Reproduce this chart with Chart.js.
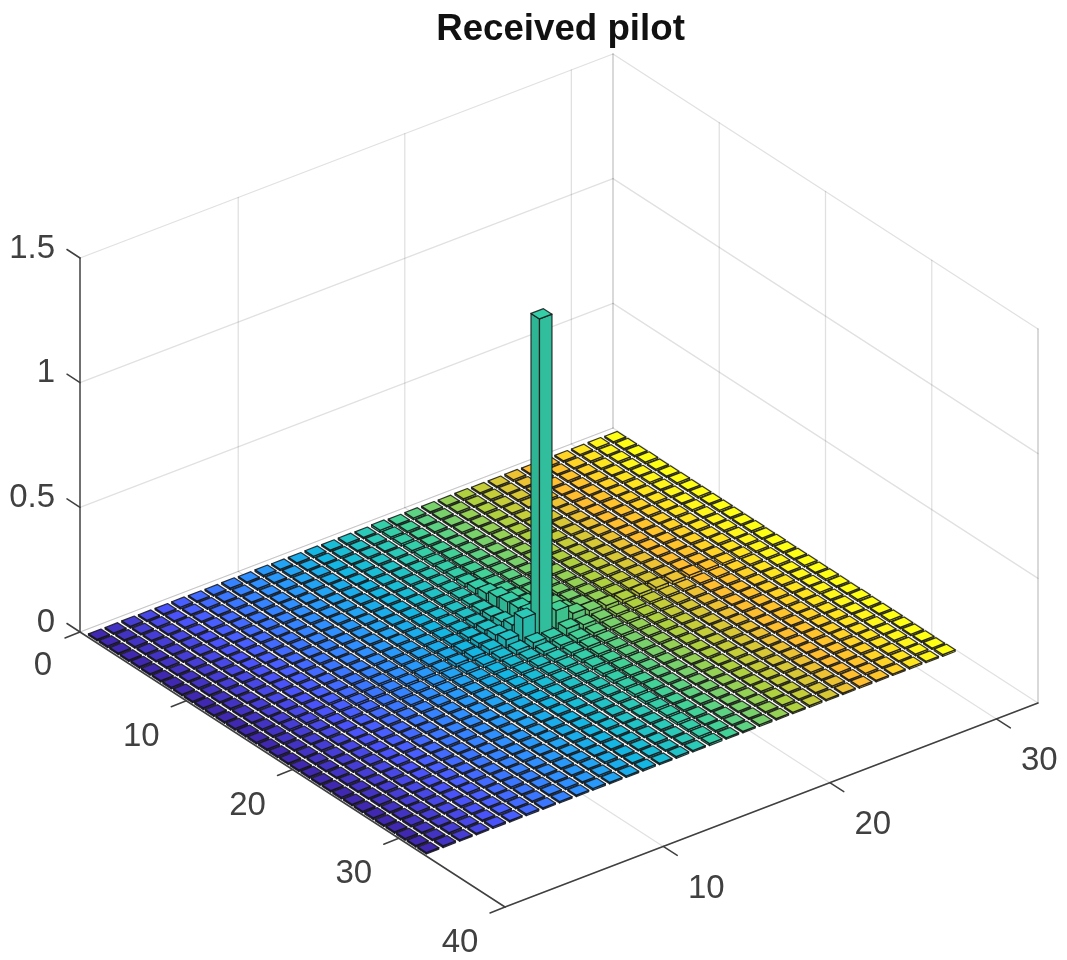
<!DOCTYPE html>
<html>
<head>
<meta charset="utf-8">
<style>
html,body{margin:0;padding:0;background:#fff}
canvas{display:block;filter:blur(0.55px)}
</style>
<script src="https://cdn.jsdelivr.net/npm/chart.js@4"></script>
</head>
<body>
<canvas id="c" width="1067" height="960"></canvas>
<script>
// Bar heights in thousandths; one line per y index 1..32, one entry per x index 1..32.
const pilotHeights = [
[6,6,7,6,6,7,6,6,7,6,7,6,6,7,6,7,6,9,6,7,6,6,7,6,6,7,6,7,6,6,7,6],
[7,6,6,7,6,6,7,6,6,7,6,7,6,6,7,6,7,9,7,6,6,7,6,7,6,6,7,6,6,7,6,6],
[6,7,6,6,7,6,6,7,6,6,7,6,7,7,6,7,6,10,6,7,6,6,7,6,7,6,6,7,6,6,7,6],
[6,6,7,6,6,7,6,6,7,6,6,7,6,6,7,7,7,10,7,6,7,6,6,7,6,7,6,6,7,6,6,7],
[7,6,6,7,6,6,7,6,6,7,6,6,7,6,7,6,7,11,7,7,6,7,6,6,7,6,7,6,6,7,6,6],
[6,7,6,6,7,6,6,7,7,6,7,6,6,7,7,7,8,11,8,7,7,6,7,6,6,7,6,7,6,6,7,6],
[6,6,7,6,6,7,7,6,6,7,6,7,7,6,7,8,8,12,8,7,6,7,6,7,6,6,7,6,7,6,6,7],
[7,6,6,7,6,6,7,7,6,6,7,6,7,7,7,8,9,13,9,8,7,7,6,7,7,6,6,7,6,7,6,6],
[6,7,6,6,7,6,6,7,7,6,7,7,6,7,8,8,10,15,10,8,7,7,7,6,7,7,6,6,7,6,6,7],
[6,6,7,7,6,7,6,6,7,7,6,7,7,8,8,9,11,22,11,9,8,7,7,7,6,7,7,6,6,7,7,6],
[7,6,6,7,6,6,7,7,6,7,7,6,8,8,9,10,13,31,13,10,9,8,7,7,7,6,7,6,7,6,6,7],
[6,7,6,6,7,7,6,6,7,7,7,8,8,9,10,12,16,44,16,12,10,8,8,7,7,7,6,7,6,7,6,6],
[6,6,7,6,6,7,7,7,6,8,8,8,9,10,12,15,20,52,20,14,11,9,8,8,7,7,7,6,7,6,7,6],
[7,6,6,7,7,6,7,8,8,8,9,9,10,12,14,18,26,55,27,17,13,10,9,8,8,7,7,7,6,7,6,7],
[7,7,7,7,7,8,8,8,9,9,10,10,12,14,18,26,40,65,40,24,16,12,10,9,9,8,8,7,7,6,7,6],
[7,7,8,8,8,8,9,9,9,10,11,12,14,16,20,34,95,1270,75,38,23,18,15,14,14,13,12,10,9,8,7,7],
[7,7,7,7,7,8,8,8,9,9,10,11,12,13,15,19,24,17,30,20,15,12,11,10,9,9,8,8,7,7,7,6],
[7,6,6,7,7,6,7,8,8,8,9,9,10,11,12,14,16,16,17,14,12,11,9,9,8,7,7,7,7,6,7,6],
[6,6,7,6,6,7,7,7,8,8,8,8,9,10,11,12,13,15,13,11,10,9,8,8,7,7,7,6,6,7,6,7],
[6,7,6,6,7,7,6,6,7,7,7,8,8,9,10,10,11,14,11,10,9,8,8,7,7,7,6,7,6,7,6,6],
[7,6,6,7,6,6,7,7,6,7,7,7,8,8,9,9,10,14,10,9,8,8,7,7,6,6,7,6,7,6,6,7],
[6,6,7,7,6,7,6,6,7,7,6,7,7,8,8,8,9,13,9,8,8,7,7,6,7,7,6,6,7,6,7,6],
[6,7,6,6,7,6,6,7,7,6,7,6,7,7,8,8,9,13,9,8,7,7,6,7,7,6,6,7,6,7,6,6],
[7,6,6,7,6,6,7,6,6,7,6,7,6,7,7,8,8,12,8,7,7,6,7,6,6,7,6,6,7,6,6,7],
[6,6,7,6,7,7,6,7,6,6,7,6,7,6,7,7,8,12,8,7,7,7,6,7,6,6,7,6,6,7,6,6],
[6,7,6,6,6,7,6,6,7,6,6,7,6,7,6,7,7,11,7,7,6,6,7,6,7,6,6,7,6,6,7,6],
[7,6,6,7,6,6,7,6,6,7,6,6,7,6,7,6,7,11,7,6,7,6,6,7,6,7,6,6,7,6,6,7],
[6,6,7,6,6,7,6,6,7,6,7,6,6,7,6,7,7,10,7,7,6,7,6,6,7,6,6,7,6,7,6,6],
[6,7,6,6,7,6,6,7,6,6,6,7,6,6,7,6,7,10,7,6,6,6,7,6,6,7,6,6,7,6,7,6],
[7,6,6,7,6,6,7,6,7,6,6,6,7,6,6,7,6,9,6,7,6,7,6,6,7,6,7,6,6,7,6,6],
[6,6,7,6,6,7,6,6,6,7,6,7,6,6,7,6,7,9,7,6,6,6,7,6,6,7,6,7,6,6,7,6],
[6,7,6,6,7,6,7,6,6,6,7,6,6,7,6,7,6,8,6,6,7,6,6,7,6,6,7,6,6,7,6,7]
];
const xIndex = [1,2,3,4,5,6,7,8,9,10,11,12,13,14,15,16,17,18,19,20,21,22,23,24,25,26,27,28,29,30,31,32];
const yIndex = [1,2,3,4,5,6,7,8,9,10,11,12,13,14,15,16,17,18,19,20,21,22,23,24,25,26,27,28,29,30,31,32];
const xTickValues = [10,20,30];
const yTickValues = [0,10,20,30,40];
const zTickValues = [0,0.5,1,1.5];
const titleText = 'Received pilot';

// Colormap stops
const mapStops = [[.2422,.1504,.6603],[.2810,.3228,.9579],[.1786,.5289,.9682],[.0689,.6948,.8394],
  [.2161,.7843,.5923],[.6720,.7793,.2227],[1.0,.70,.17],[.9769,.9839,.0805]];
function mapColor(t){
  const p=t*(mapStops.length-1), i=Math.min(Math.floor(p),mapStops.length-2), f=p-i;
  return mapStops[i].map((c,k)=>c+(mapStops[i+1][k]-c)*f);
}
function rgb(c,s){return 'rgb('+c.map(v=>Math.round(Math.min(1,v*s)*255)).join(',')+')';}

// Oblique view of the box
const view = {origin:[80,632], xEdge:[533,-204], yEdge:[425,275], zEdge:[0,-374]};
const barHalfX = 0.375, barHalfY = 0.4;
const ink = '#404040', gridInk = 'rgba(0,0,0,0.12)';

// Fraction of a value along its scale
function frac(s,v){
  const p0=s.getPixelForValue(s.min), p1=s.getPixelForValue(s.max);
  return (s.getPixelForValue(v)-p0)/(p1-p0);
}

const box3d = {
  id:'box3d',
  beforeDatasetsDraw(chart){
    const ctx=chart.ctx, S=chart.scales;
    const P=(x,y,z)=>{
      const a=frac(S.x,x), b=frac(S.y,y), c=frac(S.z,z);
      return [view.origin[0]+a*view.xEdge[0]+b*view.yEdge[0]+c*view.zEdge[0],
              view.origin[1]+a*view.xEdge[1]+b*view.yEdge[1]+c*view.zEdge[1]];
    };
    const seg=(p,q,col,w)=>{ctx.beginPath();ctx.moveTo(p[0],p[1]);ctx.lineTo(q[0],q[1]);ctx.strokeStyle=col;ctx.lineWidth=w;ctx.stroke();};
    const xa=S.x.min, xb=S.x.max, ya=S.y.min, yb=S.y.max, za=S.z.min, zb=S.z.max;
    ctx.save();
    ctx.lineCap='round';
    // grid
    const xT=S.x.ticks.map(t=>t.value), yT=S.y.ticks.map(t=>t.value), zT=S.z.ticks.map(t=>t.value);
    zT.forEach(z=>{seg(P(xa,ya,z),P(xb,ya,z),gridInk,1.3);seg(P(xb,ya,z),P(xb,yb,z),gridInk,1.3);});
    xT.forEach(x=>{seg(P(x,ya,za),P(x,ya,zb),gridInk,1.3);seg(P(x,ya,za),P(x,yb,za),gridInk,1.3);});
    yT.forEach(y=>{seg(P(xb,y,za),P(xb,y,zb),gridInk,1.3);seg(P(xa,y,za),P(xb,y,za),gridInk,1.3);});
    seg(P(xb,ya,za),P(xb,ya,zb),gridInk,1.3);
    seg(P(xb,yb,za),P(xb,yb,zb),gridInk,1.3);
    // axes
    seg(P(xa,ya,za),P(xa,ya,zb),ink,1.5);
    seg(P(xa,ya,za),P(xa,yb,za),ink,1.5);
    seg(P(xa,yb,za),P(xb,yb,za),ink,1.5);
    // tick marks and labels
    ctx.font='33px "Liberation Sans", Arial, sans-serif';
    ctx.fillStyle=ink;
    ctx.textBaseline='middle';
    const label=(txt,x,y,al)=>{ctx.textAlign=al;ctx.fillText(txt,x,y);};
    S.z.ticks.forEach(t=>{
      const p=P(xa,ya,t.value);
      seg(p,[p[0]-13,p[1]-8.5],ink,1.5);
      label(t.label,55,p[1]-9.5,'right');
    });
    S.y.ticks.forEach(t=>{
      const p=P(xa,t.value,za);
      seg(p,[p[0]-15,p[1]+6],ink,1.5);
      label(t.label,p[0]-(t.value===0?37:45),p[1]+(t.value===0?34:36),'center');
    });
    S.x.ticks.forEach(t=>{
      const p=P(t.value,yb,za);
      seg(p,[p[0]+14,p[1]+9],ink,1.5);
      label(t.label,p[0]+43,p[1]+42,'center');
    });
    // bars, back to front
    const poly=(pts,fill)=>{
      ctx.beginPath();ctx.moveTo(pts[0][0],pts[0][1]);
      for(let i=1;i<pts.length;i++)ctx.lineTo(pts[i][0],pts[i][1]);
      ctx.closePath();ctx.fillStyle=fill;ctx.fill();
      ctx.strokeStyle='rgba(20,20,20,0.85)';ctx.lineWidth=1.2;ctx.stroke();
    };
    ctx.lineJoin='round';
    for(let d=chart.data.datasets.length-1;d>=0;d--){
      const ds=chart.data.datasets[d];
      ds.data.forEach(pt=>{
        const a=pt.x-barHalfX,b=pt.x+barHalfX,c=pt.y-barHalfY,e=pt.y+barHalfY,z=pt.z;
        poly([P(a,c,0),P(a,e,0),P(a,e,z),P(a,c,z)],rgb(ds.baseColor,0.92));
        poly([P(a,e,0),P(b,e,0),P(b,e,z),P(a,e,z)],rgb(ds.baseColor,0.97));
        poly([P(a,c,z),P(a,e,z),P(b,e,z),P(b,c,z)],rgb(ds.baseColor,1.05));
      });
    }
    ctx.restore();
  }
};

const series = xIndex.map((x,i)=>{
  const base = mapColor(i/(xIndex.length-1));
  return {
    label:'x '+x,
    baseColor:base,
    backgroundColor:rgb(base,1),
    borderColor:'#000',
    pointRadius:0,
    showLine:false,
    data:yIndex.map((y,j)=>({x:x,y:y,z:pilotHeights[j][i]/1000}))
  };
});

const tickText = v => String(v);
new Chart(document.getElementById('c'),{
  type:'scatter',
  data:{datasets:series},
  options:{
    responsive:false,
    animation:false,
    events:[],
    layout:{padding:{left:54,top:0}},
    plugins:{
      legend:{display:false},
      tooltip:{enabled:false},
      title:{display:true,text:titleText,color:'#111',padding:{top:8,bottom:0},
        font:{family:'"Liberation Sans", Arial, sans-serif',size:36.7,weight:'bold'}}
    },
    scales:{
      x:{type:'linear',display:false,min:0.5,max:32.5,ticks:{callback:tickText},
         afterBuildTicks:s=>{s.ticks=xTickValues.map(v=>({value:v}));}},
      y:{type:'linear',display:false,min:0,max:40,ticks:{callback:tickText},
         afterBuildTicks:s=>{s.ticks=yTickValues.map(v=>({value:v}));}},
      z:{type:'linear',axis:'y',display:false,min:0,max:1.5,ticks:{callback:tickText},
         afterBuildTicks:s=>{s.ticks=zTickValues.map(v=>({value:v}));}}
    }
  },
  plugins:[box3d]
});
</script>
</body>
</html>
